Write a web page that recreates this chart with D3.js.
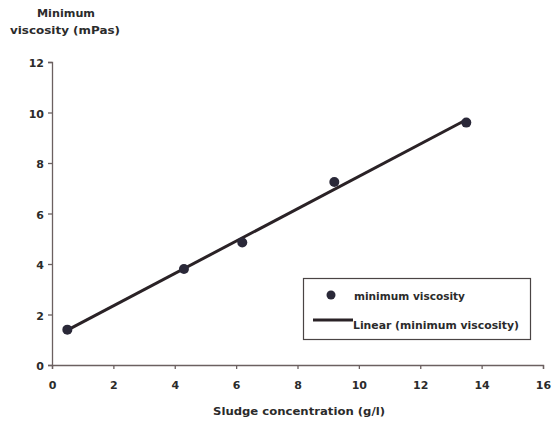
<!DOCTYPE html>
<html>
<head>
<meta charset="utf-8">
<script src="https://cdn.jsdelivr.net/npm/d3@7"></script>
<style>
  html, body { margin: 0; padding: 0; background: #fff; }
  text { font-family: "DejaVu Sans", "Liberation Sans", Arial, sans-serif; font-weight: bold; fill: #2b2b2b; }
</style>
</head>
<body>
<svg id="chart" width="554" height="424"></svg>
<script>
// Sludge concentration (g/l) and measured minimum viscosity (mPas)
const concentration = [0.5, 4.3, 6.2, 9.2, 13.5];
const minViscosity = [1.4, 3.8, 4.85, 7.25, 9.6];
const xTicks = [0, 2, 4, 6, 8, 10, 12, 14, 16];
const yTicks = [0, 2, 4, 6, 8, 10, 12];

const svg = d3.select("#chart");
const x = d3.scaleLinear().domain([0, 16]).range([52, 543]);
const y = d3.scaleLinear().domain([0, 12]).range([365, 62]);

// least-squares trend line through the measurements
const n = concentration.length;
const mx = d3.mean(concentration), my = d3.mean(minViscosity);
let sxy = 0, sxx = 0;
for (let i = 0; i < n; i++) {
  sxy += (concentration[i] - mx) * (minViscosity[i] - my);
  sxx += (concentration[i] - mx) ** 2;
}
const slope = sxy / sxx, intercept = my - slope * mx;
const xMin = d3.min(concentration), xMax = d3.max(concentration);

// axes
const xAxis = svg.append("g").attr("transform", `translate(0,${y(0)})`)
  .call(d3.axisBottom(x).tickValues(xTicks).tickSize(4).tickPadding(12).tickFormat(d3.format("d")));
const yAxis = svg.append("g").attr("transform", `translate(${x(0)},0)`)
  .call(d3.axisLeft(y).tickValues(yTicks).tickSize(4).tickPadding(4).tickFormat(d3.format("d")));
[xAxis, yAxis].forEach(a => {
  a.select(".domain").attr("stroke", "#6b6060").attr("stroke-width", 1.3);
  a.selectAll(".tick line").attr("stroke", "#6b6060").attr("stroke-width", 1.3);
  a.selectAll(".tick text").style("font-size", "11px")
    .style("font-family", "DejaVu Sans, Liberation Sans, Arial, sans-serif")
    .style("font-weight", "bold").attr("fill", "#2b2b2b");
});
yAxis.selectAll(".tick text").attr("dy", "0.45em");

// trend line
svg.append("line")
  .attr("x1", x(xMin)).attr("y1", y(intercept + slope * xMin))
  .attr("x2", x(xMax)).attr("y2", y(intercept + slope * xMax))
  .attr("stroke", "#2a2226").attr("stroke-width", 3);

// data points
svg.selectAll("circle.pt").data(concentration).enter().append("circle")
  .attr("class", "pt")
  .attr("cx", d => x(d))
  .attr("cy", (d, i) => y(minViscosity[i]))
  .attr("r", 5)
  .attr("fill", "#2a2838");

// helper for stretched bold labels
function label(g, tx, ty, str, w, size) {
  return g.append("text").attr("x", tx).attr("y", ty)
    .style("font-size", size + "px")
    .attr("textLength", w).attr("lengthAdjust", "spacingAndGlyphs")
    .text(str);
}

// axis titles
label(svg, 37, 17, "Minimum", 58, 10);
label(svg, 10, 34, "viscosity (mPas)", 110, 10);
label(svg, 213, 415, "Sludge concentration (g/l)", 172, 10);

// legend
const lg = svg.append("g");
lg.append("rect").attr("x", 303.5).attr("y", 278.5).attr("width", 227).attr("height", 61)
  .attr("fill", "#fff").attr("stroke", "#4a4444").attr("stroke-width", 1.2);
lg.append("circle").attr("cx", 331).attr("cy", 295).attr("r", 4.5).attr("fill", "#2a2838");
label(lg, 354, 300, "minimum viscosity", 111, 10);
lg.append("line").attr("x1", 313).attr("x2", 353).attr("y1", 320).attr("y2", 320)
  .attr("stroke", "#2a2226").attr("stroke-width", 3);
label(lg, 353, 329, "Linear (minimum viscosity)", 166, 10);
</script>
</body>
</html>
